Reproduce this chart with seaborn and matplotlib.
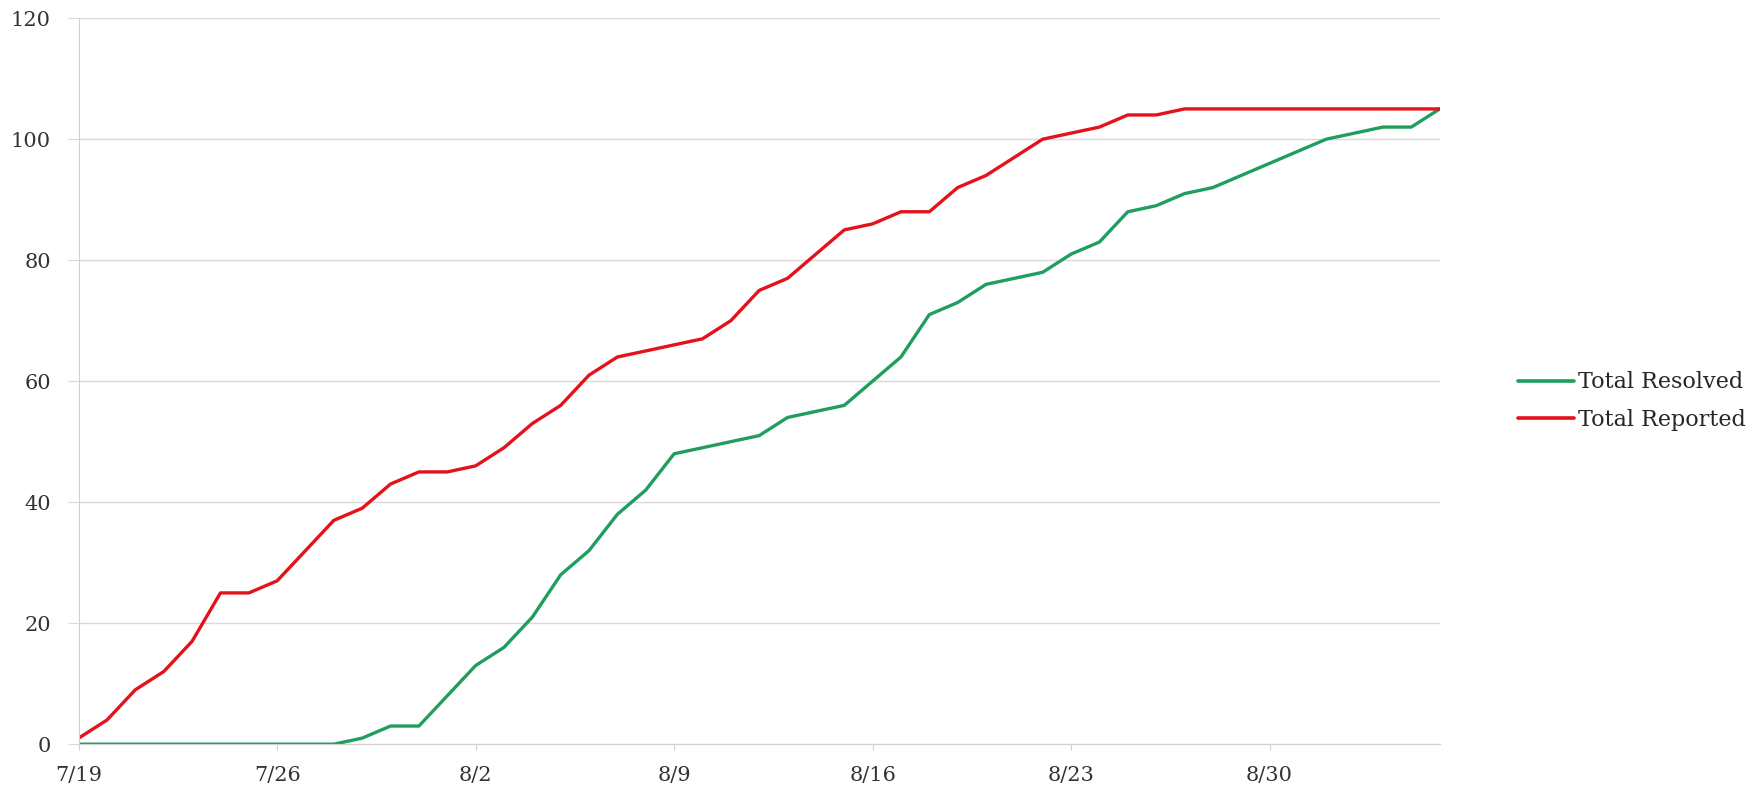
import pandas as pd
import matplotlib
matplotlib.use("Agg")
import matplotlib.pyplot as plt
import matplotlib.dates as mdates
import seaborn as sns

dates = pd.date_range("2014-07-19", "2014-09-05", freq="D")

total_resolved = [0, 0, 0, 0, 0, 0, 0, 0, 0, 0,
                  1, 3, 3, 8, 13, 16, 21, 28, 32, 38,
                  42, 48, 49, 50, 51, 54, 55, 56, 60, 64,
                  71, 73, 76, 77, 78, 81, 83, 88, 89, 91,
                  92, 94, 96, 98, 100, 101, 102, 102, 105]
total_reported = [1, 4, 9, 12, 17, 25, 25, 27, 32, 37,
                  39, 43, 45, 45, 46, 49, 53, 56, 61, 64,
                  65, 66, 67, 70, 75, 77, 81, 85, 86, 88,
                  88, 92, 94, 97, 100, 101, 102, 104, 104, 105,
                  105, 105, 105, 105, 105, 105, 105, 105, 105]

series_names = ["Total Resolved", "Total Reported"]
colors = {"Total Resolved": "#1f9e5e", "Total Reported": "#e3121b"}

df = pd.DataFrame({"date": dates,
                   "Total Resolved": total_resolved,
                   "Total Reported": total_reported})
long = df.melt(id_vars="date", var_name="series", value_name="count")

sns.set_style("white")
plt.rcParams["font.family"] = ["DejaVu Serif"]

fig, ax = plt.subplots(figsize=(17.6, 7.9), dpi=100)
fig.subplots_adjust(left=0.0447, right=0.818, top=0.977, bottom=0.058)

sns.lineplot(data=long, x="date", y="count", hue="series", hue_order=series_names,
             palette=colors, linewidth=2.4, ax=ax)

ax.set_xlim(dates[0], dates[-1])
ax.set_ylim(0, 120)
ax.set_yticks(range(0, 121, 20))
ax.set_xticks(pd.date_range("2014-07-19", "2014-08-30", freq="7D"))
ax.xaxis.set_major_formatter(mdates.DateFormatter("%-m/%-d"))
ax.set_xlabel("")
ax.set_ylabel("")

ax.grid(axis="y", color="#d9d9d9", linewidth=1)
ax.set_axisbelow(True)
for side in ["top", "right"]:
    ax.spines[side].set_visible(False)
ax.spines["left"].set_color("#d0d0d0")
ax.spines["bottom"].set_color("#d0d0d0")
ax.tick_params(axis="y", length=8, color="#d9d9d9", labelsize=15, pad=12, labelcolor="#333333")
ax.tick_params(axis="x", length=4, color="#d0d0d0", labelsize=15, pad=12, labelcolor="#333333")
ax.yaxis.set_ticks_position("left")
ax.xaxis.set_ticks_position("bottom")

leg = ax.legend(loc="center left", bbox_to_anchor=(1.043, 0.4725), frameon=False,
                fontsize=16, handlelength=2.5, handletextpad=0.2, labelspacing=0.7)
for line in leg.get_lines():
    line.set_linewidth(2.6)

fig.savefig("out.png", dpi=100)
